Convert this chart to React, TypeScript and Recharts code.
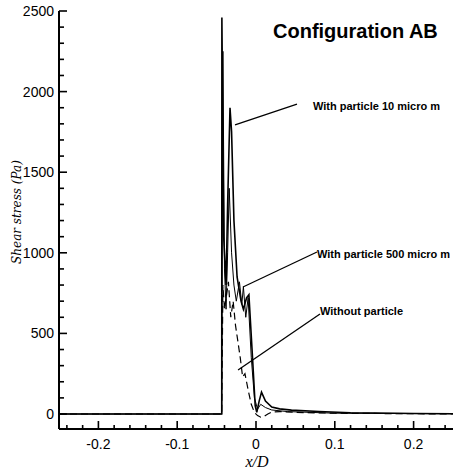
import { Line, LineChart, ReferenceDot, ReferenceLine, XAxis, YAxis } from "recharts";

// x/D positions and shear stress (Pa) for each case
const xParticle10 = [-0.25, -0.0435, -0.0433, -0.041, -0.038, -0.036, -0.033, -0.031, -0.028, -0.024, -0.019, -0.016, -0.012, -0.009, -0.005, -0.001, 0.001, 0.004, 0.007, 0.012, 0.02, 0.03, 0.045, 0.08, 0.12, 0.2, 0.25];
const yParticle10 = [0, 0, 2460, 1100, 800, 1300, 1900, 1750, 1200, 850, 700, 650, 720, 740, 400, 50, 10, 80, 136, 80, 43, 32, 24, 16, 8, 3, 2];

const xParticle500 = [-0.25, -0.0435, -0.042, -0.04, -0.038, -0.036, -0.034, -0.031, -0.028, -0.025, -0.021, -0.018, -0.016, -0.013, -0.01, -0.006, -0.002, 0.002, 0.006, 0.012, 0.02, 0.04, 0.1, 0.25];
const yParticle500 = [0, 0, 2250, 900, 650, 1000, 1400, 1000, 800, 700, 820, 680, 790, 600, 720, 350, 100, 30, 60, 40, 25, 15, 5, 2];

const xNoParticle = [-0.25, -0.0435, -0.042, -0.04, -0.037, -0.035, -0.032, -0.029, -0.026, -0.023, -0.02, -0.017, -0.014, -0.01, -0.006, -0.002, 0.002, 0.006, 0.01, 0.015, 0.02, 0.03, 0.05, 0.1, 0.25];
const yNoParticle = [0, 0, 800, 650, 750, 820, 600, 700, 550, 450, 350, 230, 250, 150, 60, 10, -10, -20, -15, 0, 12, 15, 10, 5, 0];

const xTicks = [-0.24, -0.22, -0.2, -0.18, -0.16, -0.14, -0.12, -0.1, -0.08, -0.06, -0.04, -0.02, 0, 0.02, 0.04, 0.06, 0.08, 0.1, 0.12, 0.14, 0.16, 0.18, 0.2, 0.22, 0.24];
const yTicks = [0, 100, 200, 300, 400, 500, 600, 700, 800, 900, 1000, 1100, 1200, 1300, 1400, 1500, 1600, 1700, 1800, 1900, 2000, 2100, 2200, 2300, 2400, 2500];

// annotation texts with anchor (x/D, Pa) and leader line from curve to text
const labelTexts = ["With particle 10 micro m", "With particle 500 micro m", "Without particle"];
const labelAt = [
  { x: 0.0723, y: 1886 },
  { x: 0.0774, y: 968 },
  { x: 0.0812, y: 614 },
];
const leaders = [
  [{ x: -0.0266, y: 1793 }, { x: 0.052, y: 1923 }],
  [{ x: -0.0165, y: 788 }, { x: 0.0774, y: 1005 }],
  [{ x: -0.0228, y: 273 }, { x: 0.0812, y: 620 }],
];

const zip = (xs: number[], ys: number[]) => xs.map((x, i) => ({ x, y: ys[i] }));

const isMajor = (v: number, step: number) => Math.abs(v / step - Math.round(v / step)) < 1e-6;

const XTick = (props: any) => {
  const { x, y, payload } = props;
  const v = payload.value;
  const major = isMajor(v, 0.1);
  return (
    <g>
      <line x1={x} x2={x} y1={y} y2={y - (major ? 8 : 4)} stroke="#000" strokeWidth={1.6} />
      {major && (
        <text x={x} y={y + 20} textAnchor="middle" fontSize={14} fontFamily="Liberation Sans, Arial" fill="#000">
          {Math.abs(v) < 1e-9 ? "0" : String(Math.round(v * 10) / 10)}
        </text>
      )}
    </g>
  );
};

const YTick = (props: any) => {
  const { x, y, payload } = props;
  const v = payload.value;
  const major = isMajor(v, 500);
  return (
    <g>
      <line x1={x} x2={x + (major ? 8 : 5)} y1={y} y2={y} stroke="#000" strokeWidth={1.6} />
      {major && (
        <text x={x - 5} y={y + 5} textAnchor="end" fontSize={14} fontFamily="Liberation Sans, Arial" fill="#000">
          {v}
        </text>
      )}
    </g>
  );
};

const textLabel = (text: string, size: number) => (p: any) => (
  <text
    x={p.viewBox.x + (p.viewBox.width || 0) / 2}
    y={p.viewBox.y + (p.viewBox.height || 0) / 2}
    fontSize={size}
    fontWeight="bold"
    fontFamily="Liberation Sans, Arial"
    fill="#000"
  >
    {text}
  </text>
);

export default function App() {
  return (
    <div style={{ position: "absolute", left: 0, top: 0 }}>
      <LineChart width={453} height={472} margin={{ top: 11, right: 0, bottom: 0, left: 0 }}>
        <XAxis
          type="number"
          dataKey="x"
          domain={[-0.25, 0.25]}
          ticks={xTicks}
          interval={0}
          height={43}
          tickSize={0}
          tickMargin={0}
          tickLine={false}
          tick={<XTick />}
          axisLine={{ stroke: "#000", strokeWidth: 2 }}
        />
        <YAxis
          type="number"
          dataKey="y"
          domain={[-93, 2500]}
          ticks={yTicks}
          interval={0}
          width={59}
          tickSize={0}
          tickMargin={0}
          tickLine={false}
          tick={<YTick />}
          axisLine={{ stroke: "#000", strokeWidth: 2 }}
        />
        <Line data={zip(xParticle10, yParticle10)} dataKey="y" stroke="#000" strokeWidth={1.6} dot={false} isAnimationActive={false} />
        <Line data={zip(xParticle500, yParticle500)} dataKey="y" stroke="#000" strokeWidth={1} dot={false} isAnimationActive={false} />
        <Line data={zip(xNoParticle, yNoParticle)} dataKey="y" stroke="#000" strokeWidth={1.2} strokeDasharray="7 4" dot={false} isAnimationActive={false} />
        {leaders.map((seg, i) => (
          <ReferenceLine key={"l" + i} segment={seg} stroke="#000" strokeWidth={1.3} />
        ))}
        {labelTexts.map((t, i) => (
          <ReferenceDot key={"t" + i} x={labelAt[i].x} y={labelAt[i].y} r={0} fill="none" stroke="none" label={textLabel(t, 11)} />
        ))}
        <ReferenceDot x={0.0216} y={2333} r={0} fill="none" stroke="none" label={textLabel("Configuration AB", 20)} />
      </LineChart>
      <div
        style={{
          position: "absolute",
          left: 17,
          top: 212,
          transform: "translate(-50%, -50%) rotate(-90deg)",
          fontFamily: "DejaVu Serif, serif",
          fontStyle: "italic",
          fontSize: 12,
          whiteSpace: "nowrap",
        }}
      >
        Shear stress (Pa)
      </div>
      <div
        style={{
          position: "absolute",
          left: 257,
          top: 462,
          transform: "translate(-50%, -50%)",
          fontFamily: "Liberation Serif, serif",
          fontStyle: "italic",
          fontSize: 16,
          whiteSpace: "nowrap",
        }}
      >
        x/D
      </div>
    </div>
  );
}
